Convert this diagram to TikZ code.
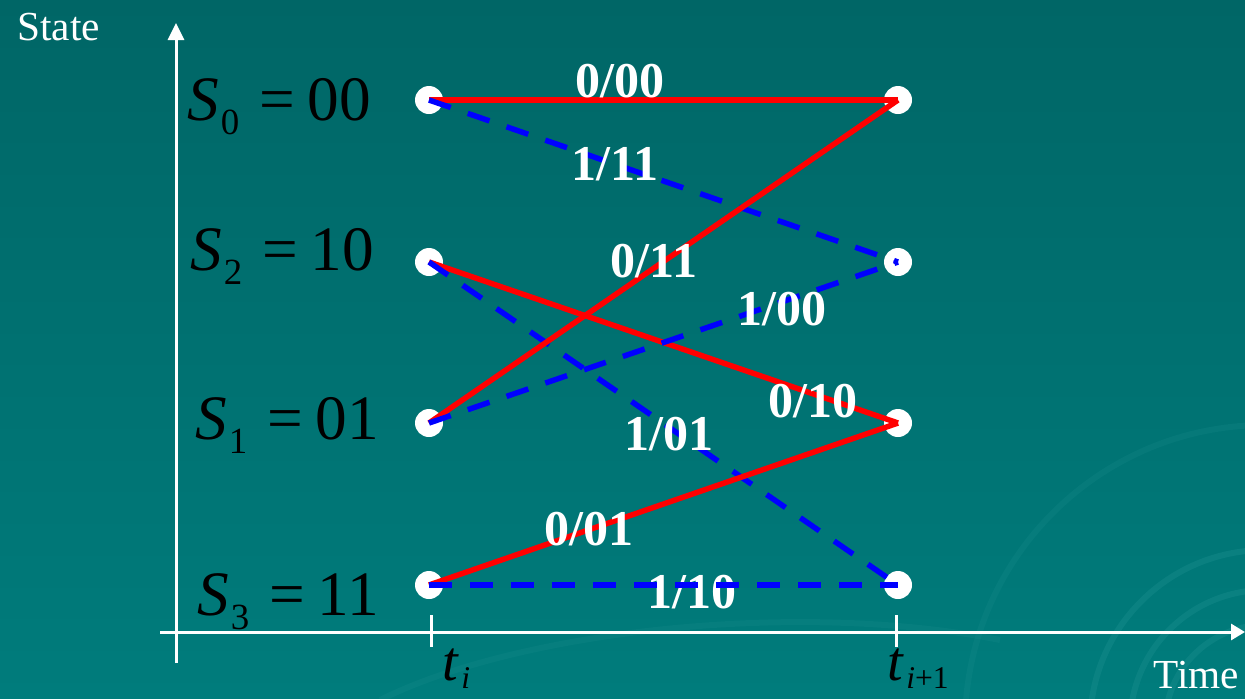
\documentclass[tikz,border=0pt]{standalone}
\usepackage{fontspec}
\setmainfont{Liberation Serif}
\usetikzlibrary{arrows.meta}
\definecolor{bgtop}{RGB}{0,102,102}
\definecolor{bgbot}{RGB}{0,124,124}
\definecolor{swirl}{RGB}{30,145,145}
\newcommand{\stlab}[2]{\fontsize{36}{36}\selectfont\textit{S}\kern0.03em\raisebox{-8.5pt}{\fontsize{21}{21}\selectfont #1}\hspace{0.32em}=\hspace{0.2em}#2}
\newcommand{\tlab}[1]{\fontsize{32}{32}\selectfont\textit{t}\kern0.04em\raisebox{-5pt}{\fontsize{18}{18}\selectfont #1}}
\begin{document}
\begin{tikzpicture}[x=0.02cm,y=-0.02cm,
  dot/.style={circle,fill=white,minimum size=0.56cm,inner sep=0pt},
  trans/.style={line width=0.11cm},
  zero/.style={trans,red},
  one/.style={trans,blue,dash pattern=on 0.46cm off 0.36cm},
  lbl/.style={text=white,font=\fontsize{28.5}{28.5}\selectfont\bfseries,inner sep=0pt,anchor=base},
  st/.style={text=black,inner sep=0pt,anchor=base west},
  axtxt/.style={text=white,font=\fontsize{23.5}{23.5}\selectfont,inner sep=0pt,anchor=base west},
  axis/.style={white,line width=0.06cm},
  sw/.style={swirl,line width=0.12cm,opacity=0.35}]
\useasboundingbox (0,0) rectangle (1245,698);
\shade[top color=bgtop,bottom color=bgbot] (0,0) rectangle (1245,698);
% faint background swirls
\draw[sw] (1265,725) circle[radius=100];
\draw[sw] (1265,725) circle[radius=135];
\draw[sw] (1265,725) circle[radius=175];
\draw[sw,opacity=0.2] (1265,725) circle[radius=300];
\draw[sw,opacity=0.2] (380,700) .. controls (520,630) and (800,600) .. (1000,640);
% axes
\coordinate (ybot) at (176,663);
\coordinate (ytop) at (176,23);
\coordinate (xl) at (160,632);
\coordinate (xr) at (1245,632);
\draw[axis,-{Triangle[width=0.32cm,length=0.34cm]}] (ybot) -- (ytop);
\draw[axis,-{Triangle[width=0.32cm,length=0.28cm]}] (xl) -- (xr);
\coordinate (t1a) at (431,615); \coordinate (t1b) at (431,647);
\coordinate (t2a) at (896,615); \coordinate (t2b) at (896,647);
\draw[axis] (t1a) -- (t1b);
\draw[axis] (t2a) -- (t2b);
\node[axtxt] (state) at (17,40) {State};
\node[axtxt] (time) at (1153,688) {Time};
\node[st,anchor=base west] (ti) at (442,680) {\tlab{\textit{i}}};
\node[st,anchor=base west] (tii) at (887,680) {\tlab{\textit{i}+1}};
% state labels
\node[st] (l0) at (187,120) {\stlab{0}{00}};
\node[st] (l2) at (190,270) {\stlab{2}{10}};
\node[st] (l1) at (195,439) {\stlab{1}{01}};
\node[st] (l3) at (197,615) {\stlab{3}{11}};
% dots
\node[dot] (a0) at (429,100) {};
\node[dot] (a2) at (429,262) {};
\node[dot] (a1) at (429,423) {};
\node[dot] (a3) at (429,585) {};
\node[dot] (b0) at (898,100) {};
\node[dot] (b2) at (898,262) {};
\node[dot] (b1) at (898,423) {};
\node[dot] (b3) at (898,585) {};
% label under its line
\node[lbl] (m10) at (692,608) {1/10};
% transitions
\draw[zero] (a0.center) -- (b0.center);
\draw[one]  (a0.center) -- (b2.center);
\draw[zero] (a2.center) -- (b1.center);
\draw[one]  (a2.center) -- (b3.center);
\draw[zero] (a1.center) -- (b0.center);
\draw[one]  (a1.center) -- (b2.center);
\draw[zero] (a3.center) -- (b1.center);
\draw[one]  (a3.center) -- (b3.center);
% labels
\node[lbl] (m00) at (620,97) {0/00};
\node[lbl] (m11) at (615,180) {1/11};
\node[lbl] (n11) at (654,277) {0/11};
\node[lbl] (p00) at (782,325) {1/00};
\node[lbl] (n10) at (813,417) {0/10};
\node[lbl] (p01) at (669,450) {1/01};
\node[lbl] (n01) at (589,545) {0/01};
\end{tikzpicture}
\end{document}
